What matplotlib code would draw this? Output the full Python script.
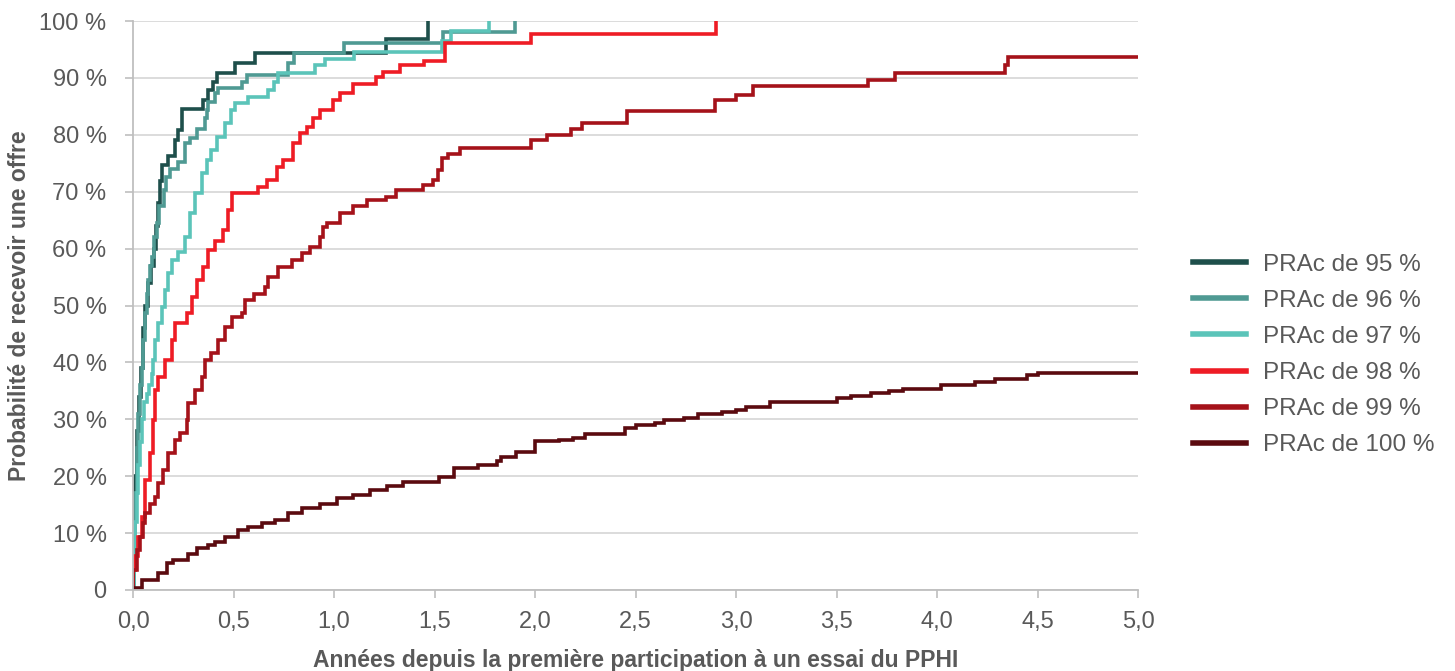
import matplotlib
matplotlib.use("Agg")
import matplotlib.pyplot as plt

# courbes en escalier : années depuis la première participation / probabilité (%)
x95 = [0, 0.005, 0.01, 0.02, 0.03, 0.04, 0.05, 0.06, 0.075, 0.09, 0.105, 0.115, 0.125, 0.135, 0.143,
       0.176, 0.209, 0.226, 0.242, 0.35, 0.375, 0.40, 0.416, 0.507, 0.607, 1.26, 1.47]
y95 = [0, 12, 20, 28, 34, 39, 46, 50, 54, 57, 60, 64, 68, 71.8, 74.7,
       76.2, 79.1, 80.8, 84.6, 86.1, 87.9, 89.3, 90.8, 92.6, 94.3, 96.8, 100]

x96 = [0, 0.005, 0.01, 0.02, 0.027, 0.035, 0.043, 0.05, 0.06, 0.07, 0.076, 0.085, 0.093, 0.105, 0.118,
       0.13, 0.155, 0.165, 0.185, 0.226, 0.259, 0.284, 0.317, 0.358, 0.367, 0.375, 0.408, 0.424, 0.54,
       0.566, 0.77, 0.80, 1.05, 1.54, 1.90]
y96 = [0, 10, 17, 25, 31, 36, 39, 44, 48.7, 52, 54.5, 57, 58.6, 62, 64.5,
       67.5, 70.3, 72.5, 74, 75.3, 78.5, 79.4, 81.1, 82.9, 84.4, 85.8, 87.3, 88.2, 89.3,
       90.5, 92.6, 94.3, 96.2, 98.1, 100]

x97 = [0, 0.003, 0.01, 0.018, 0.025, 0.035, 0.043, 0.055, 0.068, 0.08, 0.093, 0.101, 0.109, 0.126,
       0.143, 0.159, 0.176, 0.192, 0.226, 0.259, 0.284, 0.308, 0.342, 0.367, 0.39, 0.416, 0.458, 0.49,
       0.507, 0.572, 0.673, 0.70, 0.72, 0.905, 0.955, 1.10, 1.536, 1.58, 1.77]
y97 = [0, 5, 12, 17, 22, 26, 30, 33, 34.5, 36, 38, 40.4, 43.9, 46.9,
       49.8, 52.7, 55.7, 58, 59.4, 62, 66.3, 69.8, 73.2, 75.6, 77.3, 79.7, 82, 84.4,
       85.6, 86.7, 87.9, 89.3, 90.8, 92.3, 93.4, 94.6, 96.4, 98.2, 100]

x98 = [0, 0.002, 0.012, 0.027, 0.043, 0.06, 0.085, 0.101, 0.109, 0.124, 0.159, 0.192, 0.209, 0.267,
       0.292, 0.317, 0.35, 0.375, 0.408, 0.449, 0.474, 0.491, 0.623, 0.665, 0.716, 0.746, 0.796, 0.83,
       0.864, 0.897, 0.93, 0.995, 1.03, 1.095, 1.21, 1.245, 1.33, 1.45, 1.55, 1.98, 2.90]
y98 = [0, 3.5, 5.9, 9.4, 12.9, 19.3, 24, 29.9, 35.1, 37.5, 40.4, 43.9, 46.9, 48.6,
       51.5, 54.5, 56.8, 59.8, 61.3, 63.3, 66.8, 69.7, 70.9, 72, 74.4, 75.6, 78.5, 80.3,
       81.4, 82.9, 84.4, 86.1, 87.3, 89, 90.2, 91.1, 92.3, 92.9, 96.1, 97.8, 100]

x99 = [0, 0.002, 0.018, 0.035, 0.051, 0.06, 0.085, 0.11, 0.126, 0.151, 0.176, 0.209, 0.234, 0.267,
       0.275, 0.308, 0.342, 0.358, 0.39, 0.424, 0.458, 0.491, 0.541, 0.557, 0.6, 0.657, 0.673, 0.723,
       0.79, 0.84, 0.88, 0.93, 0.947, 0.964, 1.03, 1.095, 1.163, 1.26, 1.31, 1.444, 1.494, 1.519,
       1.536, 1.569, 1.627, 1.98, 2.058, 2.18, 2.232, 2.456, 2.896, 3.0, 3.086, 3.658, 3.79, 4.338,
       4.355, 5.0]
y99 = [0, 3.5, 7, 9.4, 11.7, 13.5, 15.2, 16.4, 18.8, 21.1, 24, 26.4, 27.6, 29.9,
       32.8, 35.1, 37.5, 40.4, 41.6, 43.9, 46.3, 48, 48.6, 51, 52.1, 53.3, 55, 56.8,
       58, 59.2, 60.3, 62.1, 63.8, 64.5, 66.2, 67.4, 68.5, 69.1, 70.3, 71.2, 72.1, 73.8,
       75.9, 76.7, 77.6, 79.1, 80, 81.1, 82, 84.1, 86.1, 87, 88.5, 89.6, 90.8, 92.3,
       93.7, 93.7]

x100 = [0, 0.043, 0.126, 0.168, 0.2, 0.275, 0.317, 0.375, 0.408, 0.458, 0.524, 0.574, 0.64, 0.706,
        0.773, 0.84, 0.93, 1.013, 1.096, 1.18, 1.262, 1.345, 1.52, 1.595, 1.714, 1.81, 1.833, 1.905,
        2.0, 2.12, 2.19, 2.25, 2.45, 2.5, 2.595, 2.64, 2.74, 2.81, 2.93, 3.0, 3.05, 3.17, 3.5, 3.57,
        3.67, 3.76, 3.83, 4.02, 4.19, 4.29, 4.45, 4.5, 5.0]
y100 = [0.3, 1.8, 2.9, 4.7, 5.3, 6.4, 7.3, 7.9, 8.5, 9.4, 10.5, 11.1, 11.7, 12.3,
        13.5, 14.4, 15.2, 16.1, 16.7, 17.6, 18.2, 19.0, 19.9, 21.4, 22, 22.6, 23.4, 24.3,
        26.1, 26.4, 26.7, 27.5, 28.4, 29, 29.3, 29.9, 30.2, 30.9, 31.3, 31.7, 32.2, 33.1, 33.7, 34.1,
        34.6, 34.9, 35.4, 36, 36.6, 37, 37.8, 38.2, 38.2]

series = [
    ("PRAc de 95 %", x95, y95, "#1e4f4b"),
    ("PRAc de 96 %", x96, y96, "#4f9a93"),
    ("PRAc de 97 %", x97, y97, "#5bc4b9"),
    ("PRAc de 98 %", x98, y98, "#ee1c25"),
    ("PRAc de 99 %", x99, y99, "#a5121a"),
    ("PRAc de 100 %", x100, y100, "#5b0a0f"),
]

xticks = [0, 0.5, 1.0, 1.5, 2.0, 2.5, 3.0, 3.5, 4.0, 4.5, 5.0]
xtick_labels = ["0,0", "0,5", "1,0", "1,5", "2,0", "2,5", "3,0", "3,5", "4,0", "4,5", "5,0"]
yticks = [0, 10, 20, 30, 40, 50, 60, 70, 80, 90, 100]
ytick_labels = ["0"] + [f"{v} %" for v in yticks[1:]]

plt.rcParams['font.family'] = ['Liberation Sans', 'DejaVu Sans']
grey = "#595959"

fig = plt.figure(figsize=(14.55, 6.71), dpi=100)
ax = fig.add_axes([133 / 1455, 1 - 590 / 671, (1138 - 133) / 1455, (590 - 21) / 671])

for label, xs, ys, c in series:
    ax.step(xs, ys, where="post", color=c, lw=2.6, label=label, solid_joinstyle="miter")

ax.set_xlim(0, 5)
ax.set_ylim(0, 100)
ax.set_xticks(xticks)
ax.set_xticklabels(xtick_labels)
ax.set_yticks(yticks)
ax.set_yticklabels(ytick_labels)
ax.tick_params(colors="#bfbfbf", labelcolor=grey, labelsize=17, length=6, width=1.2)
ax.tick_params(axis="x", pad=9)
ax.tick_params(axis="y", pad=13)

ax.grid(axis="y", color="#d9d9d9", lw=1.3)
ax.set_axisbelow(True)
for s in ["top", "right"]:
    ax.spines[s].set_visible(False)
for s in ["left", "bottom"]:
    ax.spines[s].set_color("#bfbfbf")
    ax.spines[s].set_linewidth(1.3)

ax.set_xlabel("Années depuis la première participation à un essai du PPHI",
              fontsize=16.5, fontweight="bold", color=grey, labelpad=12)
ax.set_ylabel("Probabilité de recevoir une offre",
              fontsize=16.5, fontweight="bold", color=grey, labelpad=6)

leg = fig.legend(loc="center left", bbox_to_anchor=(1171 / 1455, 1 - 355 / 671),
                 frameon=False, fontsize=17.5, handlelength=2.2, handletextpad=0.7,
                 labelspacing=0.58)
for t in leg.get_texts():
    t.set_color(grey)
for h in leg.get_lines():
    h.set_linewidth(4)

fig.savefig("out.png", dpi=100)
